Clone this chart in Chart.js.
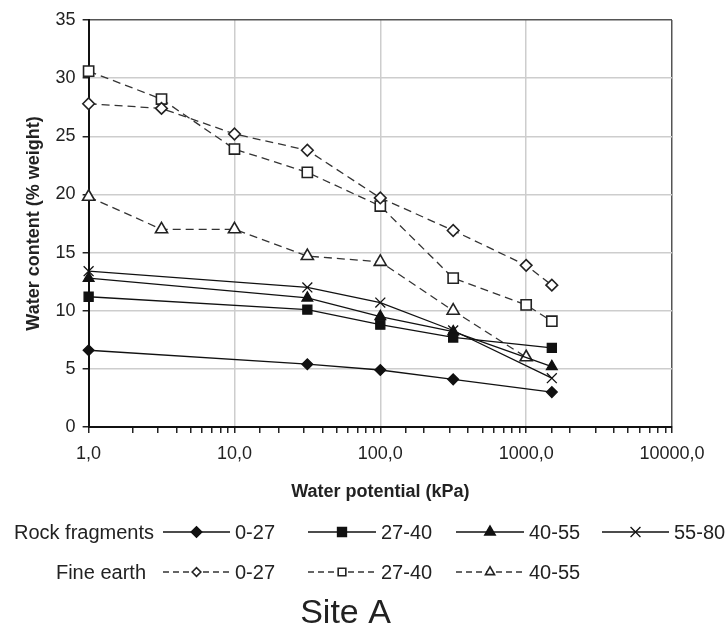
<!DOCTYPE html>
<html>
<head>
<meta charset="utf-8">
<script src="https://cdn.jsdelivr.net/npm/chart.js@4/dist/chart.umd.min.js"></script>
<style>
	body { margin: 0; background: #fff; }
	#siteChart { display: block; }
</style>
</head>
<body>
<canvas id="siteChart" width="726" height="632"></canvas>
<script>
// water potential (kPa) of each measuring step
var potential = [1, 3.16, 10, 31.6, 100, 316, 1000, 1500];

// water content (% weight), null where no sample was measured
var rock0_27 = [6.6, null, null, 5.4, 4.9, 4.1, null, 3.0];
var rock27_40 = [11.2, null, null, 10.1, 8.8, 7.7, null, 6.8];
var rock40_55 = [12.8, null, null, 11.1, 9.5, 8.2, null, 5.2];
var rock55_80 = [13.4, null, null, 12.0, 10.7, 8.3, null, 4.2];
var fine0_27 = [27.8, 27.4, 25.2, 23.8, 19.7, 16.9, 13.9, 12.2];
var fine27_40 = [30.6, 28.2, 23.9, 21.9, 19.0, 12.8, 10.5, 9.1];
var fine40_55 = [19.8, 17.0, 17.0, 14.7, 14.2, 10.0, 6.0, null];

var yTicks = [0, 5, 10, 15, 20, 25, 30, 35];

var FONT = "'Liberation Sans', Arial, Helvetica, sans-serif";
var INK = "#222";

function toPoints(values) {
	var points = [];
	values.forEach(function (v, i) {
		if (v !== null) {
			points.push({ x: potential[i], y: v });
		}
	});
	return points;
}

function isDecade(v) {
	var l = Math.log10(v);
	return Math.abs(l - Math.round(l)) < 1e-9;
}

function rockSet(label, values, style, radius) {
	return {
		label: label,
		data: toPoints(values),
		borderColor: "#111",
		borderWidth: 1.3,
		pointStyle: style,
		pointRadius: radius,
		pointHoverRadius: radius,
		pointBackgroundColor: "#111",
		pointBorderColor: "#111",
		pointBorderWidth: 1.3,
		fill: false,
		tension: 0,
		clip: false,
	};
}

function fineSet(label, values, style, radius) {
	return {
		label: label,
		data: toPoints(values),
		borderColor: "#333",
		borderWidth: 1.3,
		borderDash: [8, 5],
		pointStyle: style,
		pointRadius: radius,
		pointHoverRadius: radius,
		pointBackgroundColor: "#fff",
		pointBorderColor: "#222",
		pointBorderWidth: 1.6,
		fill: false,
		tension: 0,
		clip: false,
	};
}

// two-row grouped legend drawn under the x axis
var legendRows = [
	{ title: "Rock fragments", right: 154, y: 532, sets: [0, 1, 2, 3], scale: 1 },
	{ title: "Fine earth", right: 146, y: 572, sets: [4, 5, 6], scale: 0.75 },
];
var legendCols = [[163, 230], [308, 376], [456, 524], [602, 669]];

var groupLegend = {
	id: "groupLegend",
	afterDraw: function (chart) {
		var ctx = chart.ctx;
		ctx.save();
		ctx.font = "20px " + FONT;
		ctx.textBaseline = "middle";
		legendRows.forEach(function (row) {
			ctx.textAlign = "right";
			ctx.fillStyle = INK;
			ctx.fillText(row.title, row.right, row.y + 1);
			row.sets.forEach(function (idx, col) {
				var ds = chart.data.datasets[idx];
				var x0 = legendCols[col][0];
				var x1 = legendCols[col][1];
				ctx.strokeStyle = ds.borderColor;
				ctx.lineWidth = ds.borderWidth;
				ctx.setLineDash(ds.borderDash ? [6, 4] : []);
				ctx.beginPath();
				ctx.moveTo(x0, row.y);
				ctx.lineTo(x1, row.y);
				ctx.stroke();
				ctx.setLineDash([]);
				ctx.fillStyle = ds.pointBackgroundColor;
				ctx.strokeStyle = ds.pointBorderColor;
				ctx.lineWidth = ds.pointBorderWidth;
				Chart.helpers.drawPoint(ctx, {
					pointStyle: ds.pointStyle,
					radius: ds.pointRadius * row.scale,
					rotation: 0,
					borderWidth: ds.pointBorderWidth,
				}, (x0 + x1) / 2, row.y);
				ctx.fillStyle = INK;
				ctx.textAlign = "left";
				ctx.fillText(ds.label, x1 + 5, row.y + 1);
			});
		});
		ctx.restore();
	},
};

var siteChart = new Chart(document.getElementById("siteChart"), {
	type: "line",
	data: {
		datasets: [
			rockSet("0-27", rock0_27, "rectRot", 5.4),
			rockSet("27-40", rock27_40, "rect", 6.4),
			rockSet("40-55", rock40_55, "triangle", 6.2),
			rockSet("55-80", rock55_80, "crossRot", 7),
			fineSet("0-27", fine0_27, "rectRot", 5.8),
			fineSet("27-40", fine27_40, "rect", 7.2),
			fineSet("40-55", fine40_55, "triangle", 7),
		],
	},
	options: {
		responsive: false,
		animation: false,
		layout: {
			padding: { top: 20, right: 54, left: 19, bottom: 0 },
		},
		plugins: {
			legend: { display: false },
			tooltip: { enabled: false },
			title: {
				display: true,
				position: "bottom",
				text: "Site A",
				color: INK,
				font: { family: FONT, size: 34, weight: "normal" },
				padding: { top: 86, bottom: -2 },
			},
		},
		scales: {
			x: {
				type: "logarithmic",
				min: 1,
				max: 10000,
				border: { color: "#111", width: 2 },
				grid: {
					color: function (c) {
						if (!c.tick) return "transparent";
						if (c.tick.value === 10000) return "#555";
						return isDecade(c.tick.value) ? "#cdcdcd" : "transparent";
					},
					lineWidth: 1.5,
					tickColor: "#222",
					tickLength: 6,
				},
				ticks: {
					autoSkip: false,
					maxRotation: 0,
					padding: 10,
					color: INK,
					font: { family: FONT, size: 18 },
					callback: function (value) {
						return isDecade(value) ? value.toFixed(1).replace(".", ",") : "";
					},
				},
				title: {
					display: true,
					text: "Water potential (kPa)",
					color: INK,
					font: { family: FONT, size: 18, weight: "bold" },
					padding: { top: 7, bottom: 4 },
				},
			},
			y: {
				min: 0,
				max: 35,
				border: { color: "#111", width: 2 },
				afterBuildTicks: function (scale) {
					scale.ticks = yTicks.map(function (v) {
						return { value: v };
					});
				},
				grid: {
					color: function (c) {
						return c.tick && c.tick.value === 35 ? "#555" : "#cdcdcd";
					},
					lineWidth: 1.5,
					tickColor: "#222",
					tickLength: 6,
				},
				ticks: {
					padding: 7,
					color: INK,
					font: { family: FONT, size: 18 },
				},
				title: {
					display: true,
					text: "Water content (% weight)",
					color: INK,
					font: { family: FONT, size: 18, weight: "bold" },
					padding: { top: 4, bottom: 4 },
				},
			},
		},
	},
	plugins: [groupLegend],
});
</script>
</body>
</html>
